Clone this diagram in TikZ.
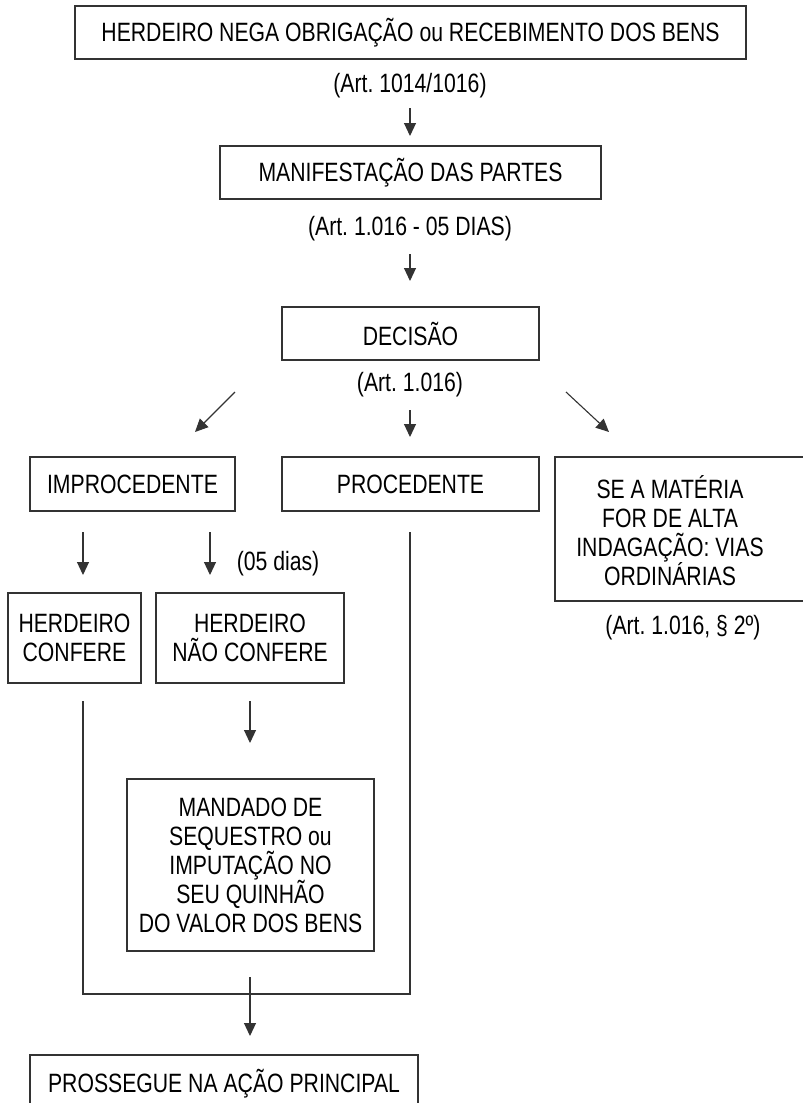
\documentclass[tikz,border=0pt]{standalone}
\usepackage{fontspec}
\setmainfont[FakeStretch=0.8]{Liberation Sans}
\usetikzlibrary{arrows.meta}
\frenchspacing
\begin{document}
\begin{tikzpicture}[x=1pt,y=-1pt,
            caixa/.style={draw=black!80,line width=1.1pt,align=center,inner sep=0pt,
                font=\fontsize{26.5}{29}\selectfont,text=black},
            rotulo/.style={align=center,inner sep=0pt,font=\fontsize{26.5}{29}\selectfont,text=black},
            seta/.style={draw=black!80,line width=1.1pt,-{Triangle[length=13pt,width=12pt]}},
            linha/.style={draw=black!80,line width=1.1pt}]
            \useasboundingbox (0,0) rectangle (803,1103);
            \clip (0,0) rectangle (803,1103);

            \node[caixa,minimum width=671pt,minimum height=53pt] (heranca) at (410.5,32.5)
                {HERDEIRO NEGA OBRIGAÇÃO ou RECEBIMENTO DOS BENS};
            \node[rotulo] (art1) at (410,86) {(Art. 1014/1016)};

            \node[caixa,minimum width=381pt,minimum height=53pt] (manif) at (410.5,172.5)
                {MANIFESTAÇÃO DAS PARTES};
            \node[rotulo] (art2) at (410,229) {(Art. 1.016 - 05 DIAS)};

            \node[caixa,minimum width=257pt,minimum height=53pt] (decisao) at (410.5,333.5) {DECISÃO};
            \node[rotulo] (art3) at (410,385) {(Art. 1.016)};

            \node[caixa,minimum width=205pt,minimum height=54pt] (improc) at (132.5,484) {IMPROCEDENTE};
            \node[caixa,minimum width=257pt,minimum height=54pt] (proced) at (410.5,484) {PROCEDENTE};
            \node[caixa,minimum width=260pt,minimum height=144pt] (altaind) at (685,529) {};
            \node[rotulo] (altaindtexto) at (670,531)
                {SE A MATÉRIA\\FOR DE ALTA\\INDAGAÇÃO: VIAS\\ORDINÁRIAS};
            \node[rotulo] (art4) at (683,628) {(Art. 1.016, § 2º)};

            \node[rotulo] (dias) at (278,564) {(05 dias)};
            \node[caixa,minimum width=133pt,minimum height=90pt] (herdconf) at (74.5,638)
                {HERDEIRO\\CONFERE};
            \node[caixa,minimum width=188pt,minimum height=90pt] (herdnao) at (250,638)
                {HERDEIRO\\NÃO CONFERE};

            \node[caixa,minimum width=247pt,minimum height=172pt] (mandado) at (250.5,865)
                {MANDADO DE\\SEQUESTRO ou\\IMPUTAÇÃO NO\\SEU QUINHÃO\\DO VALOR DOS BENS};

            \node[caixa,minimum width=388pt,minimum height=58pt] (prossegue) at (224,1084)
                {PROSSEGUE NA AÇÃO PRINCIPAL};

            \coordinate (S1a) at (410,108);
            \coordinate (S1b) at (410,136);
            \coordinate (S2a) at (410,254);
            \coordinate (S2b) at (410,281);
            \coordinate (S3a) at (235,392);
            \coordinate (S3b) at (195,432);
            \coordinate (S4a) at (410,410);
            \coordinate (S4b) at (410,437);
            \coordinate (S5a) at (566,392);
            \coordinate (S5b) at (609,432);
            \coordinate (S6a) at (83,532);
            \coordinate (S6b) at (83,575);
            \coordinate (S7a) at (210,532);
            \coordinate (S7b) at (210,575);
            \coordinate (S8a) at (250,701);
            \coordinate (S8b) at (250,743);
            \coordinate (S9a) at (250,977);
            \coordinate (S9b) at (250,1036);

            \draw[seta] (S1a) -- (S1b);
            \draw[seta] (S2a) -- (S2b);
            \draw[seta] (S3a) -- (S3b);
            \draw[seta] (S4a) -- (S4b);
            \draw[seta] (S5a) -- (S5b);
            \draw[seta] (S6a) -- (S6b);
            \draw[seta] (S7a) -- (S7b);
            \draw[seta] (S8a) -- (S8b);
            \draw[seta] (S9a) -- (S9b);

            \coordinate (L1) at (83,701);
            \coordinate (L2) at (83,994);
            \coordinate (L3) at (410,994);
            \coordinate (L4) at (410,532);

            \draw[linha] (L1) -- (L2) -- (L3) -- (L4);
        \end{tikzpicture}
\end{document}
